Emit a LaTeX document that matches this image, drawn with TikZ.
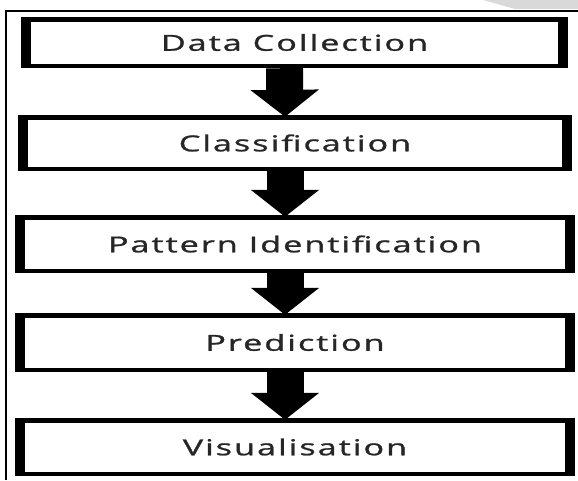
\documentclass[tikz,border=0pt]{standalone}
\usepackage{graphicx}
\usepackage{fontspec}
\setmainfont{Open Sans}
\usetikzlibrary{arrows.meta}
\tikzset{
  stage/.style={rectangle, fill=black, inner sep=0pt, text=black!85,
    font=\fontsize{22}{27}\selectfont,
    path picture={\fill[white]
      ([xshift=10pt,yshift=-4.5pt]path picture bounding box.north west) rectangle
      ([xshift=-10pt,yshift=4.5pt]path picture bounding box.south east);}},
  flow/.style={line width=37pt, -{Triangle[width=67pt,length=27pt]}},
  frame/.style={line width=1.5pt, black},
}
\newcommand{\lbl}[1]{\scalebox{1.55}[1]{\addfontfeature{LetterSpace=6,FakeBold=1}#1}}
\begin{document}
\begin{tikzpicture}[x=1pt,y=-1pt]
\useasboundingbox (0,0) rectangle (578,480);
\fill[white] (0,0) rectangle (578,480);
% watermark fragment
\fill[gray!30] (483,0) -- (578,0) -- (578,9) -- (515,9) -- cycle;
% outer frame
\draw[frame] (6,480) -- (6,11) -- (578,11);
% stages
\node[stage, minimum width=547pt, minimum height=51pt] (b1) at (294.5,42.5) {\lbl{Data Collection}};
\node[stage, minimum width=554pt, minimum height=56pt] (b2) at (295,143) {\lbl{Classification}};
\node[stage, minimum width=560pt, minimum height=58pt] (b3) at (295,244) {\lbl{Pattern Identification}};
\node[stage, minimum width=560pt, minimum height=59pt] (b4) at (295,342.5) {\lbl{Prediction}};
\node[stage, minimum width=560pt, minimum height=58pt] (b5) at (295,447) {\lbl{Visualisation}};
% arrows
\draw[flow] ([xshift=-10pt]b1.south) -- ([xshift=-10pt,yshift=-2pt]b2.north);
\draw[flow] ([xshift=-10pt]b2.south) -- ([xshift=-10pt,yshift=-2pt]b3.north);
\draw[flow] ([xshift=-10pt]b3.south) -- ([xshift=-10pt,yshift=-2pt]b4.north);
\draw[flow] ([xshift=-10pt]b4.south) -- ([xshift=-10pt,yshift=-2pt]b5.north);
\end{tikzpicture}
\end{document}
